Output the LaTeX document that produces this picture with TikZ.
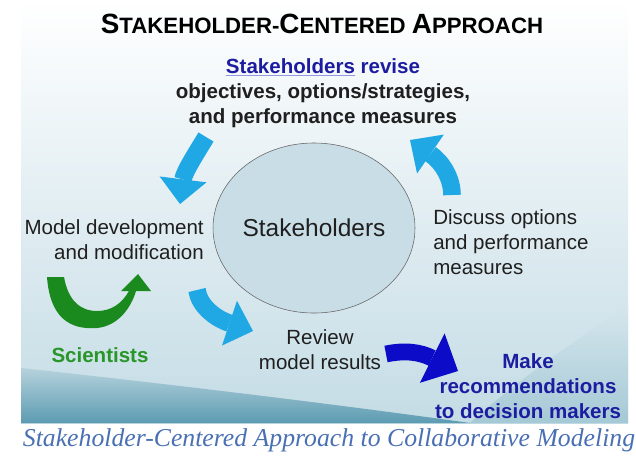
\documentclass[tikz,border=0pt]{standalone}
\usepackage{fontspec}
\newfontfamily\slidefont{Liberation Sans}
\newfontfamily\capfont{Liberation Serif}
\usetikzlibrary{shapes.geometric,arrows.meta}

\definecolor{cycleblue}{RGB}{31,168,228}
\definecolor{makeblue}{RGB}{12,12,200}
\definecolor{textblue}{RGB}{28,28,160}
\definecolor{linkline}{RGB}{150,150,225}
\definecolor{sciarrow}{RGB}{26,138,30}
\definecolor{scitext}{RGB}{40,150,40}
\definecolor{holderfill}{RGB}{201,221,230}
\definecolor{captionblue}{RGB}{74,112,180}
\definecolor{wavedark}{RGB}{92,155,178}
\definecolor{wavelight}{RGB}{196,220,229}

% larger first letter in the heading
\newcommand{\titlecap}[1]{{\fontsize{19.8}{22}\selectfont #1}}

\begin{document}
\begin{tikzpicture}[x=0.025cm,y=-0.025cm,
    label/.style={font=\slidefont\fontsize{14.6}{17.8}\selectfont,text=black!88,inner sep=0pt},
    boldlabel/.style={label,font=\slidefont\bfseries\fontsize{14.6}{17.8}\selectfont},
    cyclearrow/.style={draw=cycleblue,line width=0.44cm,
      -{Triangle[length=0.62cm,width=1.18cm,line width=0pt]}}]
  \useasboundingbox (0,0) rectangle (636,456);
  \fill[white] (0,0) rectangle (636,456);

  % slide background and waves
  \shade[top color=white,bottom color=wavelight] (21,0) rectangle (628,423);
  \shade[top color=wavelight!70!white,bottom color=wavelight!70!wavedark]
    (628,305) .. controls (560,350) and (500,395) .. (470,423) -- (628,423) -- cycle;
  \shade[top color=wavedark!45!white,bottom color=wavedark]
    (21,368) .. controls (150,382) and (320,402) .. (470,423) -- (21,423) -- cycle;

  % heading and top text
  \node[boldlabel,font=\slidefont\bfseries\fontsize{15.8}{22}\selectfont,text=black] (title) at (322,24)
    {\titlecap{S}TAKEHOLDER-\titlecap{C}ENTERED \titlecap{A}PPROACH};
  \node[boldlabel,align=center] (revise) at (323,93)
    {{\color{linkline}\underline{\color{textblue}Stakeholders}} \textcolor{textblue}{revise}\\
     objectives, options/strategies,\\and performance measures};

  % the stakeholders in the middle
  \node[ellipse,draw=black!60,fill=holderfill,minimum width=4.7cm,minimum height=4.25cm,
    label,font=\slidefont\fontsize{17.4}{20}\selectfont] (stake) at (314,228) {Stakeholders};

  \node[label,align=right,anchor=east] (model) at (204,240)
    {Model development\\and modification};
  \node[boldlabel,text=scitext] (sci) at (100,355) {Scientists};
  \node[label,align=center] (review) at (320,350) {Review\\model results};
  \node[label,align=left,anchor=west] (discuss) at (433,242)
    {Discuss options\\and performance\\measures};
  \node[boldlabel,align=center,text=textblue] (make) at (528,386)
    {Make\\recommendations\\to decision makers};

  % cycle arrows
  \coordinate (tl tail) at (206,137);
  \coordinate (tl tip) at (180,204);
  \coordinate (bl tail) at (197,290);
  \coordinate (bl tip) at (253,331);
  \coordinate (tr tail) at (452,195);
  \coordinate (tr tip) at (410,140);
  \coordinate (mk tail) at (386,354);
  \coordinate (mk tip) at (458,371);
  \draw[cyclearrow] (tl tail) .. controls (197,152) and (184,172) .. (tl tip);
  \draw[cyclearrow] (bl tail) .. controls (199,305) and (214,318) .. (bl tip);
  \draw[cyclearrow] (tr tail) .. controls (452,178) and (442,162) .. (tr tip);
  \draw[cyclearrow,draw=makeblue,line width=0.42cm,
    -{Triangle[length=0.72cm,width=1.38cm,line width=0pt]}]
    (mk tail) .. controls (405,350) and (420,352) .. (mk tip);

  % scientists loop
  \fill[sciarrow] (47,277) .. controls (50,318) and (70,330) .. (97,328)
    .. controls (118,326) and (131,308) .. (136,291) -- (151,291) -- (138,274)
    -- (121,291) -- (129,291) .. controls (122,303) and (112,311) .. (97,311)
    .. controls (80,311) and (68,300) .. (64,277) -- cycle;

  \node[text=captionblue,font=\capfont\itshape\fontsize{18.3}{22}\selectfont,inner sep=0pt]
    (caption) at (329,440) {Stakeholder-Centered Approach to Collaborative Modeling};
\end{tikzpicture}
\end{document}
